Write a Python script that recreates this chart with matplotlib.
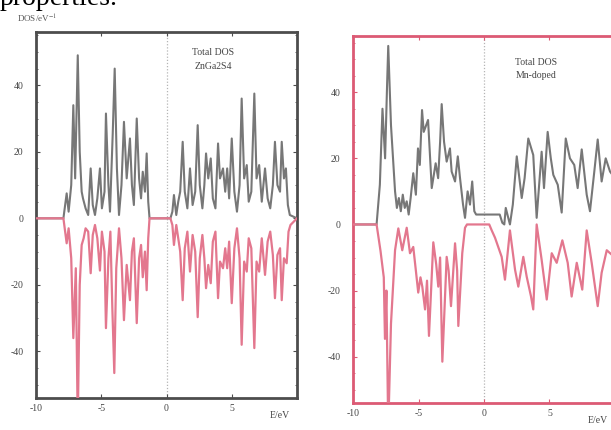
import matplotlib
matplotlib.use("Agg")
import matplotlib.pyplot as plt
from matplotlib.ticker import MultipleLocator

plt.rcParams['font.family'] = ['Liberation Serif', 'DejaVu Serif']
plt.rcParams['mathtext.fontset'] = 'stix'
plt.rcParams['axes.unicode_minus'] = False

# ZnGa2S4 total DOS, spin up / spin down (E in eV, DOS in states/eV)
zn_up_e = [-10, -7.9, -7.8, -7.65, -7.5, -7.3, -7.14, -7.0, -6.8, -6.65, -6.5, -6.4, -6.2, -6.0,
           -5.81, -5.65, -5.48, -5.3, -5.1, -4.95, -4.75, -4.64, -4.45, -4.33, -4.12, -3.97, -3.8,
           -3.64, -3.45, -3.26, -3.05, -2.8, -2.65, -2.5, -2.28, -2.1, -1.95, -1.82, -1.65, -1.52,
           -1.4, -1.3, 0.3, 0.45, 0.57, 0.75, 0.9, 1.05, 1.24, 1.4, 1.6, 1.8, 2.0, 2.2, 2.39, 2.55,
           2.75, 2.9, 3.03, 3.2, 3.39, 3.55, 3.75, 3.95, 4.1, 4.33, 4.5, 4.65, 4.8, 5.0, 5.2, 5.4,
           5.6, 5.76, 5.95, 6.15, 6.3, 6.5, 6.73, 6.9, 7.1, 7.3, 7.55, 7.75, 7.95, 8.15, 8.31, 8.5,
           8.7, 8.83, 9.0, 9.15, 9.3, 9.45, 10]
zn_up = [0, 0, 3, 7.5, 2, 10, 34, 12, 49, 20, 8, 6, 3, 1,
         15, 4, 1, 6, 15, 3, 8, 31.5, 10, 2, 25.5, 45, 15,
         1, 10, 29, 12, 24, 10, 4, 30, 12, 6, 14, 8, 19.5,
         5, 0, 0, 2, 7, 1, 5, 8, 23, 8, 3, 15, 4, 8, 28, 10,
         3, 10, 19.5, 12, 18, 6, 3, 22.5, 12, 15, 8, 15, 6, 24, 8, 2,
         10, 36, 12, 16, 5, 8, 37.5, 12, 16, 5, 15, 6, 3, 10, 23, 10,
         8, 23, 12, 15, 4, 1, 0]

zn_dn_e = [-10, -7.9, -7.8, -7.65, -7.5, -7.3, -7.14, -6.95, -6.8, -6.65, -6.5, -6.35, -6.2, -6.0,
           -5.81, -5.65, -5.48, -5.3, -5.1, -4.95, -4.75, -4.64, -4.45, -4.3, -4.15, -4.0, -3.85,
           -3.64, -3.45, -3.26, -3.05, -2.8, -2.65, -2.5, -2.28, -2.1, -1.95, -1.82, -1.65, -1.52,
           -1.4, -1.3, 0.3, 0.45, 0.57, 0.75, 0.9, 1.05, 1.24, 1.4, 1.6, 1.8, 2.0, 2.2, 2.39, 2.55,
           2.75, 2.9, 3.03, 3.2, 3.39, 3.55, 3.75, 3.95, 4.1, 4.33, 4.5, 4.65, 4.8, 5.0, 5.2, 5.4,
           5.6, 5.76, 5.95, 6.15, 6.3, 6.5, 6.73, 6.9, 7.1, 7.3, 7.55, 7.75, 7.95, 8.15, 8.31, 8.5,
           8.7, 8.83, 9.0, 9.21, 9.35, 9.5, 10]
zn_dn = [0, 0, -3, -7.5, -3, -12, -36, -15, -62, -20, -8, -6, -3, -4,
         -16.5, -5, -2, -6, -15.7, -4, -10, -33, -12, -4, -27, -46.5, -15,
         -3, -12, -30.6, -14, -24.6, -10, -6, -31.5, -12, -8, -17.7, -10, -21.6,
         -6, 0, 0, -2, -8, -2, -6, -10, -24.6, -9, -4, -16, -5, -10, -29.7, -12,
         -5, -12, -21, -14, -19.5, -7, -4, -24, -13, -15, -9, -15, -7, -25.5, -9, -3,
         -12, -38, -13, -16, -6, -9, -39, -13, -16, -6, -17, -7, -4, -11, -24, -11,
         -9, -24.6, -12, -13.5, -4, -2, 0]

# Mn-doped total DOS
mn_up_e = [-10, -8.2, -7.95, -7.75, -7.55, -7.4, -7.31, -7.1, -6.79, -6.65, -6.5, -6.35, -6.2,
           -6.05, -5.9, -5.75, -5.6, -5.4, -5.2, -5.04, -4.9, -4.73, -4.6, -4.27, -3.99, -3.69,
           -3.5, -3.35, -3.23, -3.05, -2.85, -2.6, -2.47, -2.21, -2.0, -1.83, -1.6, -1.45, -1.25,
           -1.07, -0.9, -0.74, -0.6, 1.2, 1.4, 1.55, 1.66, 1.98, 2.2, 2.5, 2.88, 3.1, 3.38, 3.76,
           4.02, 4.4, 4.58, 4.86, 5.1, 5.29, 5.63, 5.93, 6.24, 6.56, 6.89, 7.15, 7.46, 7.84, 8.09,
           8.42, 8.68, 8.98, 9.29, 9.62, 10]
mn_up = [0, 0, 12, 35, 20, 42, 54, 30, 10, 5, 8, 4, 9,
         5, 7, 3, 8, 15.5, 9, 23, 18, 34.6, 28, 31.6, 11, 18.5,
         14, 25, 36.4, 25, 19, 23, 16, 13, 20.6, 14, 6, 2, 10,
         6, 13, 4, 3, 3, 0.5, 0, 5, 0, 6, 20.6, 8, 14, 26, 21,
         2, 22, 11, 28, 20, 15, 12, 3.6, 26, 20, 18, 11, 22.7, 9, 4,
         16, 25.7, 13, 20, 16, 14]

mn_dn_e = [-10, -8.2, -7.9, -7.65, -7.56, -7.45, -7.31, -7.1, -6.79, -6.54, -6.24, -5.9, -5.65,
           -5.4, -5.2, -5.02, -4.85, -4.71, -4.5, -4.35, -4.2, -3.87, -3.65, -3.49, -3.35, -3.18,
           -2.85, -2.7, -2.52, -2.21, -2.05, -1.96, -1.66, -1.45, -1.3, 0.4, 0.59, 0.84, 1.35, 1.6,
           1.98, 2.37, 2.62, 3.0, 3.26, 3.59, 3.76, 4.02, 4.4, 4.79, 5.17, 5.55, 5.98, 6.39, 6.69,
           7.08, 7.5, 7.84, 8.22, 8.68, 8.98, 9.37, 10]
mn_dn = [0, 0, -8, -16, -34.6, -20, -62, -30, -7.8, -1.2, -7.8, -1, -8.7,
         -6.8, -14, -20.6, -16, -18.8, -25.7, -17, -33.7, -5.4, -12, -18.8, -10, -41.5,
         -9.8, -14, -24.7, -5.7, -14, -30.7, -8.7, -1, 0, 0, -1.8, -4, -9.8, -16.7,
         -1.8, -13.7, -18.8, -9.8, -15.8, -21.8, -25.7, 0, -10.7, -22.7, -8.7, -11.6, -4.8, -11.6, -21.8,
         -11.6, -19.7, -1.8, -11.6, -24.7, -14.6, -7.8, -10]

x_ticks = [-10, -5, 0, 5]
y_ticks = [40, 20, 0, -20, -40]

up_color = '#777777'
dn_color = '#e3778e'

fig = plt.figure(figsize=(6.11, 4.30), dpi=100)

fig.text(0.0, 1 - 5 / 430, 'properties.', fontsize=20, va='baseline', ha='left')

panels = [
    (zn_up_e, zn_up, zn_dn_e, zn_dn, 'ZnGa2S4', '#4d4d4d',
     [36 / 611, 1 - 398 / 430, 261 / 611, 366 / 430], (-54, 56), (0.68, 0.955)),
    (mn_up_e, mn_up, mn_dn_e, mn_dn, 'Mn-doped', '#dc5a74',
     [353 / 611, 1 - 403 / 430, 262 / 611, 367 / 430], (-54, 57), (0.7, 0.94)),
]

for ue, uv, de, dv, name, frame, pos, ylim, tpos in panels:
    ax = fig.add_axes(pos)
    ax.axvline(0, color='#b5b5b5', lw=0.9, ls=(0, (1, 1.5)), zorder=1)
    ax.plot(ue, uv, color=up_color, lw=1.5, zorder=2)
    ax.plot(de, dv, color=dn_color, lw=1.6, zorder=3)
    ax.set_xlim(-10, 10)
    ax.set_ylim(*ylim)
    ax.set_xticks(x_ticks)
    ax.set_yticks(y_ticks)
    ax.yaxis.set_minor_locator(MultipleLocator(5))
    ax.tick_params(direction='in', length=3, width=0.8, colors=frame, labelcolor='#444444',
                   labelsize=7, top=True, right=True)
    ax.tick_params(axis='y', pad=9)
    ax.tick_params(axis='x', pad=4)
    ax.tick_params(which='minor', direction='in', length=1.5, width=0.6, colors=frame,
                   right=True)
    for sp in ax.spines.values():
        sp.set_color(frame)
        sp.set_linewidth(2.0)
    ax.text(8.7, -0.035, 'E/eV', transform=ax.get_xaxis_transform(), fontsize=7,
            color='#444444', ha='center', va='top')
    ax.text(tpos[0], tpos[1], 'Total DOS\n' + name, transform=ax.transAxes, fontsize=7,
            color='#444444', ha='center', va='top', linespacing=1.6)

fig.text(17 / 611, 1 - 19 / 430, 'DOS/eV$^{-1}$', fontsize=6.5, color='#555555',
         ha='left', va='center')

fig.savefig('out.png', dpi=100)
